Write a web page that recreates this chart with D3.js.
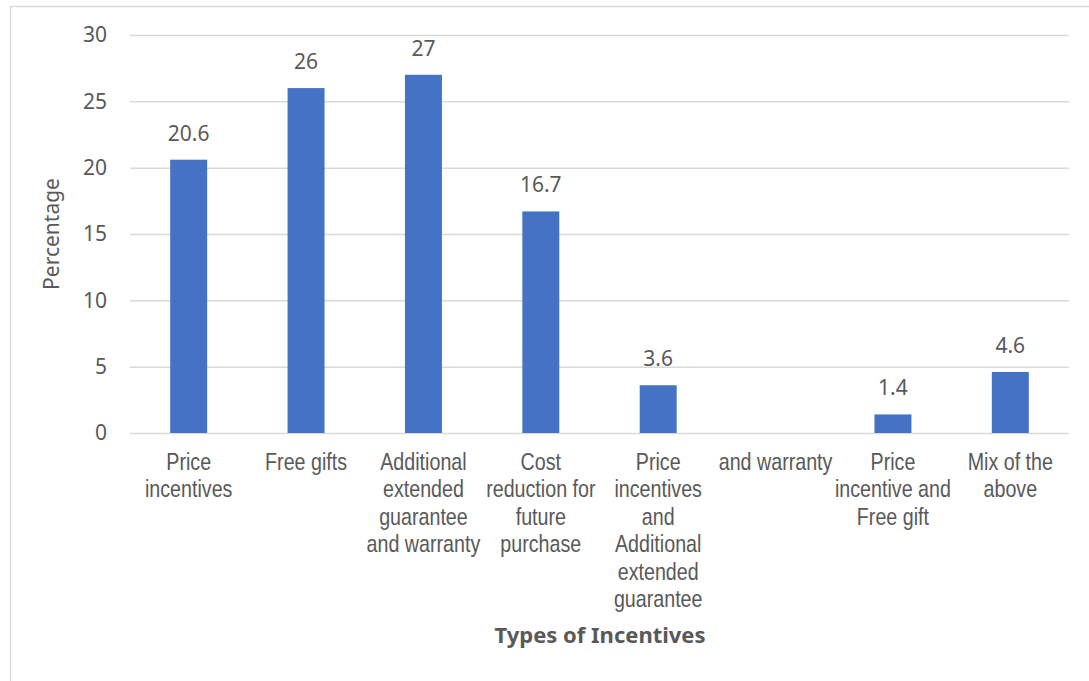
<!DOCTYPE html>
<html>
<head>
<meta charset="utf-8">
<script src="https://cdn.jsdelivr.net/npm/d3@7"></script>
<style>
  body { margin: 0; background: #fff; }
  svg { display: block; }
</style>
</head>
<body>
<svg id="chart" width="1089" height="681"></svg>
<script>
// chart data
const categories = [
  "Price incentives",
  "Free gifts",
  "Additional extended guarantee and warranty",
  "Cost reduction for future purchase",
  "Price incentives and Additional extended guarantee",
  "and warranty",
  "Price incentive and Free gift",
  "Mix of the above"
];
const labelLines = [
  ["Price", "incentives"],
  ["Free gifts"],
  ["Additional", "extended", "guarantee", "and warranty"],
  ["Cost", "reduction for", "future", "purchase"],
  ["Price", "incentives", "and", "Additional", "extended", "guarantee"],
  ["and warranty"],
  ["Price", "incentive and", "Free gift"],
  ["Mix of the", "above"]
];
const values = [20.6, 26, 27, 16.7, 3.6, null, 1.4, 4.6];
const yTicks = [0, 5, 10, 15, 20, 25, 30];

var svg = d3.select("#chart"),
  margin = { top: 35, right: 20, bottom: 248, left: 130 },
  width = 939,
  height = 398;

var textColor = "#595959",
  gridColor = "#d9d9d9",
  numFont = "'Noto Sans', 'Open Sans', sans-serif";

// outer chart border (right/bottom edges run off the picture)
svg.append("rect")
  .attr("x", 10.5).attr("y", 6.5)
  .attr("width", 1200).attr("height", 800)
  .attr("fill", "none")
  .attr("stroke", gridColor)
  .attr("stroke-width", 1.5);

var x = d3.scaleBand()
  .domain(categories)
  .range([0, width])
  .paddingInner(0.685)
  .paddingOuter(0.3425);

var y = d3.scaleLinear().domain([0, 30]).range([height, 0]);

var g = svg.append("g")
  .attr("transform", "translate(" + margin.left + "," + margin.top + ")");

// y axis + gridlines
var yAxis = g.append("g")
  .call(d3.axisLeft(y).tickValues(yTicks).tickSizeInner(-width).tickSizeOuter(0).tickPadding(23));
yAxis.select(".domain").remove();
yAxis.selectAll(".tick line")
  .attr("stroke", gridColor)
  .attr("stroke-width", 1.5);
yAxis.selectAll(".tick text")
  .attr("fill", textColor)
  .style("font-family", numFont)
  .style("font-size", "21px");

// is a narrow font installed? compare against a monospace fallback
var probe = svg.append("text").style("font-family", "'Liberation Sans Narrow', monospace").style("font-size", "24px").text("and warranty");
var probe2 = svg.append("text").style("font-family", "monospace").style("font-size", "24px").text("and warranty");
var hasNarrow = Math.abs(probe.node().getComputedTextLength() - probe2.node().getComputedTextLength()) > 1;
probe.remove();
probe2.remove();

// category labels
var catLabels = g.selectAll(".cat")
  .data(categories)
  .enter()
  .append("text")
  .attr("class", "cat")
  .attr("text-anchor", "middle")
  .attr("fill", textColor)
  .style("font-family", hasNarrow ? "'Liberation Sans Narrow', 'Arial Narrow', sans-serif" : "'Liberation Sans', Arial, sans-serif")
  .style("font-size", "24px")
  .attr("transform", function (d) {
    var t = "translate(" + (x(d) + x.bandwidth() / 2) + "," + (height + 37) + ")";
    return hasNarrow ? t : t + " scale(0.82,1)";
  });

catLabels.selectAll("tspan")
  .data(function (d, i) { return labelLines[i]; })
  .enter()
  .append("tspan")
  .attr("x", 0)
  .attr("y", function (d, i) { return i * 27.5; })
  .text(function (d) { return d; });

// bars
var barData = categories.map(function (c, i) { return { cat: c, value: values[i] }; })
  .filter(function (d) { return d.value != null; });

g.selectAll(".bar")
  .data(barData)
  .enter()
  .append("rect")
  .attr("class", "bar")
  .attr("fill", "#4472c4")
  .attr("x", function (d) { return x(d.cat); })
  .attr("y", function (d) { return y(d.value); })
  .attr("width", x.bandwidth())
  .attr("height", function (d) { return height - y(d.value); });

// value labels
g.selectAll(".val")
  .data(barData)
  .enter()
  .append("text")
  .attr("class", "val")
  .attr("text-anchor", "middle")
  .attr("fill", textColor)
  .style("font-family", numFont)
  .style("font-size", "21px")
  .attr("x", function (d) { return x(d.cat) + x.bandwidth() / 2; })
  .attr("y", function (d) { return y(d.value) - 19; })
  .text(function (d) { return d.value; });

// axis titles
svg.append("text")
  .attr("transform", "translate(59,234) rotate(-90)")
  .attr("text-anchor", "middle")
  .attr("fill", textColor)
  .style("font-family", numFont)
  .style("font-size", "21px")
  .text("Percentage");

svg.append("text")
  .attr("x", 600)
  .attr("y", 643)
  .attr("text-anchor", "middle")
  .attr("fill", textColor)
  .style("font-family", numFont)
  .style("font-size", "22px")
  .style("font-weight", 700)
  .text("Types of Incentives");
</script>
</body>
</html>
